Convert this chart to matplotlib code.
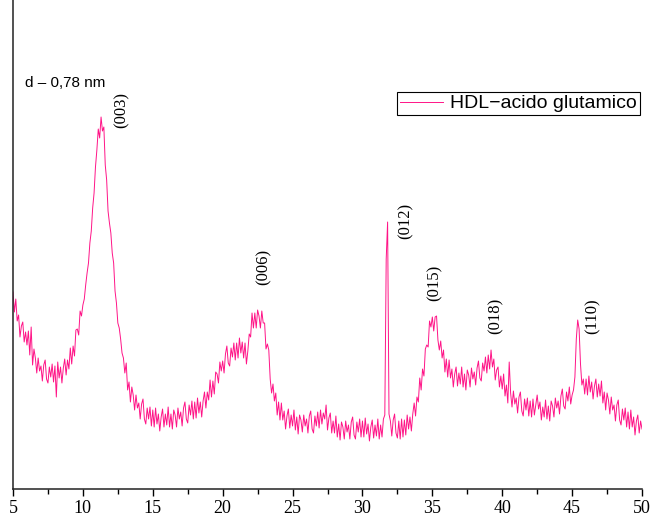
import numpy as np
import matplotlib
matplotlib.use("Agg")
import matplotlib.pyplot as plt
from matplotlib.ticker import MultipleLocator

# -----------------------
# Data (arbitrary intensity units)
# -----------------------
two_theta = np.round(np.arange(5.0, 50.05, 0.1), 1)

intensity = [
    197, 177, 190, 168, 174, 152, 163, 167, 147, 157,   # 5
    144, 158, 134, 162, 124, 140, 131, 116, 131, 118,   # 6
    123, 108, 124, 129, 110, 106, 122, 112, 125, 107,   # 7
    123, 92, 127, 111, 122, 106, 121, 130, 114, 129,    # 8
    120, 141, 125, 143, 133, 159, 160, 154, 178, 173,   # 9
    184, 190, 204, 216, 226, 246, 258, 281, 296, 322,   # 10
    339, 360, 351, 372, 358, 362, 324, 309, 278, 266,   # 11
    256, 236, 226, 198, 186, 166, 161, 150, 136, 131,   # 12
    116, 126, 99, 107, 87, 102, 94, 79, 94, 81,         # 13
    86, 70, 85, 90, 70, 65, 81, 70, 82, 63,             # 14
    79, 62, 81, 65, 75, 58, 72, 80, 62, 75,             # 15
    64, 82, 62, 75, 60, 79, 74, 62, 81, 70,             # 16
    77, 63, 81, 87, 70, 66, 84, 74, 88, 70,             # 17
    87, 71, 91, 76, 87, 72, 88, 97, 81, 97,             # 18
    89, 109, 92, 108, 95, 117, 115, 106, 127, 118,      # 19
    128, 116, 135, 143, 126, 123, 141, 132, 146, 129,   # 20
    146, 131, 151, 136, 147, 131, 146, 125, 138, 155,   # 21
    152, 176, 161, 176, 161, 179, 173, 161, 178, 166,   # 22
    166, 140, 145, 139, 110, 96, 105, 88, 96, 74,       # 23
    87, 69, 86, 69, 78, 60, 73, 80, 61, 74,             # 24
    63, 79, 59, 72, 55, 74, 69, 57, 74, 63,             # 25
    70, 56, 73, 78, 60, 56, 73, 63, 77, 61,             # 26
    79, 65, 76, 70, 84, 59, 71, 76, 56, 68,             # 27
    56, 73, 52, 65, 49, 67, 62, 50, 68, 57,             # 28
    64, 50, 67, 72, 54, 50, 67, 57, 70, 52,             # 29
    68, 52, 71, 55, 65, 48, 62, 69, 51, 64,             # 30
    53, 70, 50, 64, 52, 70, 74, 230, 267, 75,           # 31
    68, 53, 69, 75, 56, 51, 68, 50, 70, 52,             # 32
    69, 54, 74, 60, 72, 58, 75, 86, 73, 92,             # 33
    87, 111, 99, 120, 113, 140, 144, 142, 168, 162,     # 34
    172, 158, 172, 173, 149, 139, 148, 131, 139, 117,   # 35
    130, 112, 129, 111, 120, 102, 115, 122, 103, 116,   # 36
    105, 122, 102, 115, 99, 119, 114, 102, 121, 110,    # 37
    117, 104, 121, 128, 111, 108, 126, 118, 132, 116,   # 38
    134, 120, 139, 122, 130, 109, 119, 122, 102, 113,   # 39
    100, 115, 93, 104, 86, 127, 96, 82, 98, 85,         # 40
    91, 76, 92, 97, 78, 73, 90, 79, 91, 73,             # 41
    88, 72, 90, 74, 84, 94, 80, 87, 69, 82,             # 42
    72, 89, 70, 83, 68, 88, 83, 72, 91, 81,             # 43
    88, 75, 93, 100, 83, 80, 97, 88, 102, 85,           # 44
    94, 99, 112, 150, 169, 160, 125, 104, 110, 95,      # 45
    110, 94, 113, 97, 107, 90, 103, 110, 92, 105,       # 46
    93, 108, 86, 97, 79, 96, 89, 75, 92, 79,            # 47
    84, 68, 84, 89, 69, 64, 80, 69, 81, 62,             # 48
    77, 60, 79, 62, 72, 54, 68, 74, 56, 68,             # 49
    60,                                                 # 50
]

# reflections: label, 2theta, height of label centre
peak_labels = ["(003)", "(006)", "(012)", "(015)", "(018)", "(110)"]
peak_x = [12.8, 22.9, 33.1, 35.2, 39.5, 46.5]
peak_y = [379, 222, 268, 206, 173, 173]

x_ticks = [5, 10, 15, 20, 25, 30, 35, 40, 45, 50]

line_color = "#ff1487"

# -----------------------
# Plot
# -----------------------
fig = plt.figure(figsize=(6.52, 5.18), dpi=100)
ax = fig.add_axes([13 / 652, 29 / 518, 629 / 652, 489 / 518])

ax.plot(two_theta, intensity, color=line_color, linewidth=0.7,
        label="HDL\u2212acido glutamico")

ax.set_xlim(5, 50)
ax.set_ylim(0, 489)

ax.spines["top"].set_visible(False)
ax.spines["right"].set_visible(False)
for s in ["left", "bottom"]:
    ax.spines[s].set_linewidth(1.1)
    ax.spines[s].set_color("#222222")

ax.set_xticks(x_ticks)
ax.xaxis.set_minor_locator(MultipleLocator(2.5))
ax.set_yticks([])
ax.tick_params(axis="x", which="major", direction="out", length=5,
               width=1, pad=3, labelsize=13)
ax.tick_params(axis="x", which="minor", direction="out", length=3.5, width=1)
for lab in ax.get_xticklabels():
    lab.set_family("Liberation Serif")

for lab, px, py in zip(peak_labels, peak_x, peak_y):
    ax.text(px, py, lab, rotation=90, ha="center", va="center",
            fontsize=12, family="Liberation Serif")

ax.text(5.85, 402, "d \u2013 0,78 nm", ha="left", va="baseline",
        fontsize=11, family="Liberation Sans")

leg = ax.legend(loc="upper right", bbox_to_anchor=(0.997, 0.812),
                borderaxespad=0, fancybox=False, framealpha=1,
                edgecolor="black", handlelength=2.2, handletextpad=0.4,
                borderpad=0.15, prop={"family": "Liberation Sans", "size": 14})
leg.get_frame().set_linewidth(0.8)

fig.savefig("out.png", dpi=100)
